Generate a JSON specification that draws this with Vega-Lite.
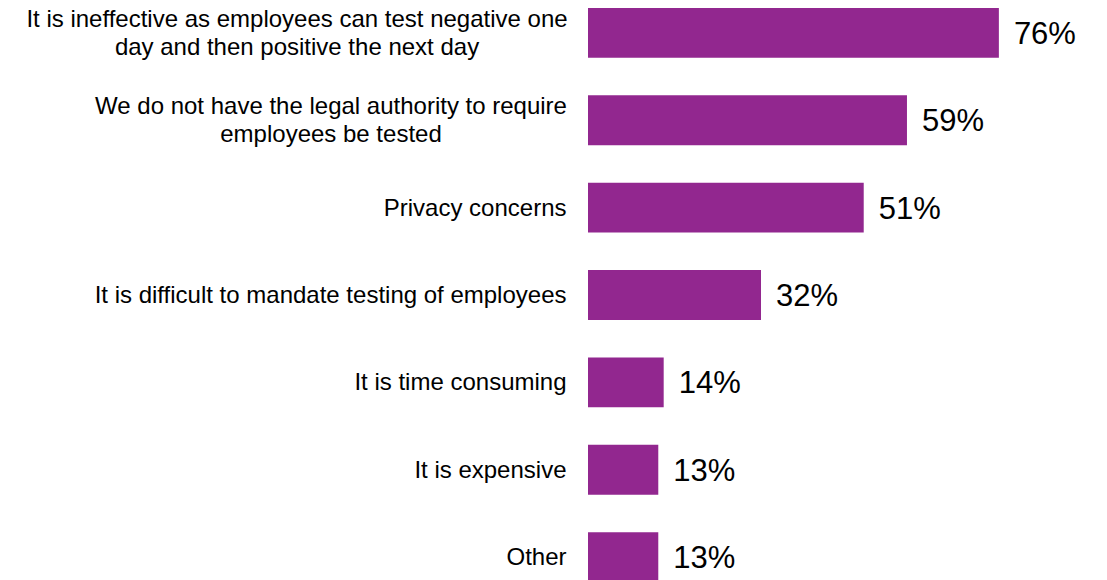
{
  "$schema": "https://vega.github.io/schema/vega-lite/v6.json",
  "width": 519,
  "height": 574,
  "autosize": {"type": "none"},
  "padding": {"left": 588, "top": 8, "right": 0, "bottom": 0},
  "background": "white",
  "data": {"values": [
    {"reason": "It is ineffective as employees can test negative one|day and then positive the next day", "pct": 0.76},
    {"reason": "We do not have the legal authority to require|employees be tested", "pct": 0.59},
    {"reason": "Privacy concerns", "pct": 0.51},
    {"reason": "It is difficult to mandate testing of employees", "pct": 0.32},
    {"reason": "It is time consuming", "pct": 0.14},
    {"reason": "It is expensive", "pct": 0.13},
    {"reason": "Other", "pct": 0.13}
  ]},
  "config": {"view": {"stroke": null}, "font": "Liberation Sans"},
  "encoding": {
    "y": {"field": "reason", "type": "nominal", "sort": null,
      "scale": {"paddingInner": 0.43, "paddingOuter": 0},
      "axis": {"title": null, "domain": false, "ticks": false, "labelPadding": 22,
        "labelFontSize": 24, "labelColor": "#000", "labelLimit": 600, "labelOffset": 1,
        "labelExpr": "indexof(datum.label, '|') >= 0 ? '' : datum.label"}},
    "x": {"field": "pct", "type": "quantitative", "scale": {"domain": [0, 0.96]}, "axis": null}
  },
  "layer": [
    {"mark": {"type": "bar", "color": "#92278F"}},
    {"mark": {"type": "text", "align": "left", "dx": 15, "dy": 2, "fontSize": 31, "color": "#000"},
     "encoding": {"text": {"field": "pct", "type": "quantitative", "format": ".0%"}}},
    {"transform": [{"filter": "datum.pct == 0.76"}],
     "mark": {"type": "text", "align": "center", "baseline": "middle", "dx": -291, "dy": -13, "fontSize": 24, "lineHeight": 28, "color": "#000",
       "text": {"expr": "split(datum.reason, '|')"}},
     "encoding": {"x": {"datum": 0}}},
    {"transform": [{"filter": "datum.pct == 0.59"}],
     "mark": {"type": "text", "align": "center", "baseline": "middle", "dx": -257, "dy": -13, "fontSize": 24, "lineHeight": 28, "color": "#000",
       "text": {"expr": "split(datum.reason, '|')"}},
     "encoding": {"x": {"datum": 0}}}
  ]
}
